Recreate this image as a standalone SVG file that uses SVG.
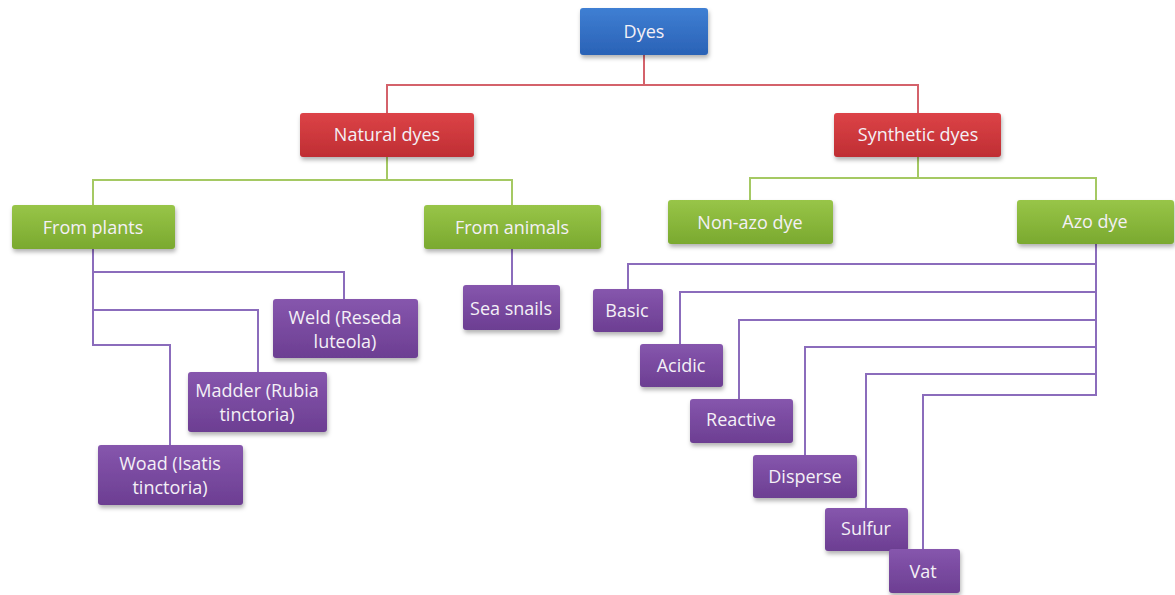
<svg xmlns="http://www.w3.org/2000/svg" width="1175" height="595" viewBox="0 0 1175 595">
<style>
.t{font-family:"Open Sans","Liberation Sans",sans-serif;font-size:18px;fill:#f4f0f6;text-anchor:middle;dominant-baseline:central}
.box{filter:url(#sh)}
.lr{stroke:#d4626b;stroke-width:2;fill:none}
.lg{stroke:#a5c963;stroke-width:2;fill:none}
.lp{stroke:#8b6cbc;stroke-width:2;fill:none}
</style>
<defs>
<filter id="sh" x="-10%" y="-20%" width="125%" height="150%">
<feDropShadow dx="1" dy="3" stdDeviation="2" flood-color="#000" flood-opacity="0.3"/>
</filter>
<linearGradient id="gb" x1="0" y1="0" x2="0" y2="1"><stop offset="0" stop-color="#3f7fd3"/><stop offset="1" stop-color="#2a62b6"/></linearGradient>
<linearGradient id="gr" x1="0" y1="0" x2="0" y2="1"><stop offset="0" stop-color="#dc4347"/><stop offset="1" stop-color="#bf2e33"/></linearGradient>
<linearGradient id="gg" x1="0" y1="0" x2="0" y2="1"><stop offset="0" stop-color="#98c548"/><stop offset="1" stop-color="#7aa92f"/></linearGradient>
<linearGradient id="gp" x1="0" y1="0" x2="0" y2="1"><stop offset="0" stop-color="#8656ad"/><stop offset="1" stop-color="#6c3e92"/></linearGradient>
</defs>
<rect width="1175" height="595" fill="#fff"/>
<g id="connectors">
<path class="lr" d="M644 55V85M387 113V85H918V113"/>
<path class="lg" d="M387 157V180M93 205V180H512V205"/>
<path class="lg" d="M918 157V178M750 200V178H1096V200"/>
<path class="lp" d="M93 249V345H170V445M93 272H344V299M93 310H258V376"/>
<path class="lp" d="M512 249V285"/>
<path class="lp" d="M1096 243V395H923V549M1096 264H628V289M1096 292H680V344M1096 320H739V399M1096 347H805V455M1096 374H866V508"/>
</g>
<g id="n-dyes"><rect class="box" x="580" y="8" width="128" height="47" rx="3" fill="url(#gb)"/><text class="t" x="644" y="31">Dyes</text></g>
<g id="n-natural"><rect class="box" x="300" y="113" width="174" height="44" rx="3" fill="url(#gr)"/><text class="t" x="387" y="134">Natural dyes</text></g>
<g id="n-synthetic"><rect class="box" x="834" y="113" width="167" height="44" rx="3" fill="url(#gr)"/><text class="t" x="918" y="134">Synthetic dyes</text></g>
<g id="n-plants"><rect class="box" x="12" y="205" width="163" height="44" rx="3" fill="url(#gg)"/><text class="t" x="93" y="227">From plants</text></g>
<g id="n-animals"><rect class="box" x="424" y="205" width="177" height="44" rx="3" fill="url(#gg)"/><text class="t" x="512" y="227">From animals</text></g>
<g id="n-nonazo"><rect class="box" x="668" y="200" width="165" height="44" rx="3" fill="url(#gg)"/><text class="t" x="750" y="222">Non-azo dye</text></g>
<g id="n-azo"><rect class="box" x="1017" y="200" width="157" height="44" rx="3" fill="url(#gg)"/><text class="t" x="1095" y="221">Azo dye</text></g>
<g id="n-weld"><rect class="box" x="273" y="299" width="145" height="59" rx="3" fill="url(#gp)"/><text class="t" x="345" y="317">Weld (Reseda</text><text class="t" x="345" y="341">luteola)</text></g>
<g id="n-madder"><rect class="box" x="188" y="372" width="139" height="60" rx="3" fill="url(#gp)"/><text class="t" x="257" y="390">Madder (Rubia</text><text class="t" x="257" y="414">tinctoria)</text></g>
<g id="n-woad"><rect class="box" x="98" y="445" width="145" height="60" rx="3" fill="url(#gp)"/><text class="t" x="170" y="463">Woad (Isatis</text><text class="t" x="170" y="487">tinctoria)</text></g>
<g id="n-sea"><rect class="box" x="463" y="285" width="97" height="45" rx="3" fill="url(#gp)"/><text class="t" x="511" y="308">Sea snails</text></g>
<g id="n-basic"><rect class="box" x="593" y="289" width="70" height="43" rx="3" fill="url(#gp)"/><text class="t" x="627" y="310">Basic</text></g>
<g id="n-acidic"><rect class="box" x="640" y="344" width="83" height="43" rx="3" fill="url(#gp)"/><text class="t" x="681" y="365">Acidic</text></g>
<g id="n-reactive"><rect class="box" x="690" y="399" width="103" height="44" rx="3" fill="url(#gp)"/><text class="t" x="741" y="419">Reactive</text></g>
<g id="n-disperse"><rect class="box" x="753" y="455" width="104" height="43" rx="3" fill="url(#gp)"/><text class="t" x="805" y="476">Disperse</text></g>
<g id="n-sulfur"><rect class="box" x="825" y="508" width="83" height="43" rx="3" fill="url(#gp)"/><text class="t" x="866" y="528">Sulfur</text></g>
<g id="n-vat"><rect class="box" x="889" y="549" width="71" height="44" rx="3" fill="url(#gp)"/><text class="t" x="923" y="571">Vat</text></g>
</svg>
